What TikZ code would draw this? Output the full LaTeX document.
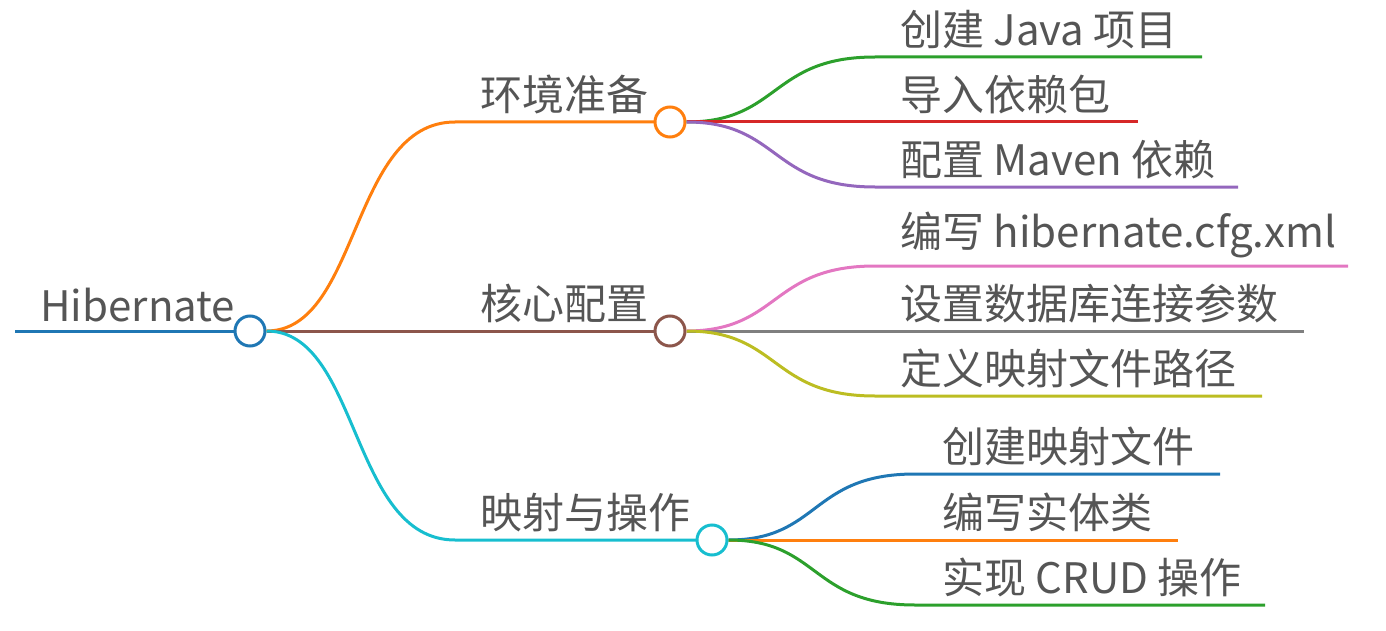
\documentclass[tikz,border=0pt]{standalone}
\usepackage{fontspec}
\setmainfont{Noto Sans CJK SC}
\definecolor{mapBlue}{HTML}{1F77B4}
\definecolor{mapOrange}{HTML}{FF7F0E}
\definecolor{mapGreen}{HTML}{2CA02C}
\definecolor{mapRed}{HTML}{D62728}
\definecolor{mapPurple}{HTML}{9467BD}
\definecolor{mapBrown}{HTML}{8C564B}
\definecolor{mapPink}{HTML}{E377C2}
\definecolor{mapGray}{HTML}{7F7F7F}
\definecolor{mapOlive}{HTML}{BCBD22}
\definecolor{mapCyan}{HTML}{17BECF}
\definecolor{mapText}{HTML}{555555}
\tikzset{
  knot/.style={circle, draw=#1, line width=1.5pt, fill=white, minimum size=15pt, inner sep=0pt},
  edge/.style={draw=#1, line width=1.5pt},
  label/.style={anchor=south west, inner sep=0pt, text=mapText, font=\fontsize{21pt}{22pt}\selectfont}
}
\begin{document}
\begin{tikzpicture}[x=0.5pt, y=-0.5pt]
            \useasboundingbox (0,0) rectangle (1386,631);
            % Root
            \coordinate (rootStart) at (15,331);
            \node[label] (rootText) at (40,322) {Hibernate};
            \draw[edge=mapBlue] (rootStart) -- (235,331);
            \node[knot=mapBlue] (root) at (250,331) {};
            
            % Branch ends
            \coordinate (envEnd) at (455,122);
            \coordinate (coreEnd) at (455,331);
            \coordinate (mapEnd) at (455,540);
            
            \draw[edge=mapOrange] (root.east) .. controls (360,331) and (350,122) .. (envEnd) -- (655,122);
            \draw[edge=mapBrown] (root.east) -- (655,331);
            \draw[edge=mapCyan] (root.east) .. controls (360,331) and (350,540) .. (mapEnd) -- (697,540);
            
            \node[knot=mapOrange] (env) at (670,122) {};
            \node[knot=mapBrown] (core) at (670,331) {};
            \node[knot=mapCyan] (map) at (712,540) {};
            
            \node[label] (envText) at (480,114) {环境准备};
            \node[label] (coreText) at (480,323) {核心配置};
            \node[label] (mapText) at (480,532) {映射与操作};
            
            % Leaves of env
            \coordinate (envA) at (875,57);
            \coordinate (envC) at (875,187);
            \draw[edge=mapGreen] (env.east) .. controls (780,122) and (770,57) .. (envA) -- (1202,57);
            \draw[edge=mapRed] (env.east) -- (1138,122);
            \draw[edge=mapPurple] (env.east) .. controls (780,122) and (770,187) .. (envC) -- (1238,187);
            \node[label] (envAText) at (900,49) {创建 Java 项目};
            \node[label] (envBText) at (900,114) {导入依赖包};
            \node[label] (envCText) at (900,179) {配置 Maven 依赖};
            
            % Leaves of core
            \coordinate (coreA) at (875,266);
            \coordinate (coreC) at (875,396);
            \draw[edge=mapPink] (core.east) .. controls (780,331) and (770,266) .. (coreA) -- (1348,266);
            \draw[edge=mapGray] (core.east) -- (1304,331);
            \draw[edge=mapOlive] (core.east) .. controls (780,331) and (770,396) .. (coreC) -- (1262,396);
            \node[label] (coreAText) at (900,258) {编写 hibernate.cfg.xml};
            \node[label] (coreBText) at (900,323) {设置数据库连接参数};
            \node[label] (coreCText) at (900,388) {定义映射文件路径};
            
            % Leaves of map
            \coordinate (mapA) at (915,474);
            \coordinate (mapC) at (915,605);
            \draw[edge=mapBlue] (map.east) .. controls (820,540) and (810,474) .. (mapA) -- (1220,474);
            \draw[edge=mapOrange] (map.east) -- (1178,540);
            \draw[edge=mapGreen] (map.east) .. controls (820,540) and (810,605) .. (mapC) -- (1265,605);
            \node[label] (mapAText) at (942,466) {创建映射文件};
            \node[label] (mapBText) at (942,532) {编写实体类};
            \node[label] (mapCText) at (942,597) {实现 CRUD 操作};
        \end{tikzpicture}
\end{document}
